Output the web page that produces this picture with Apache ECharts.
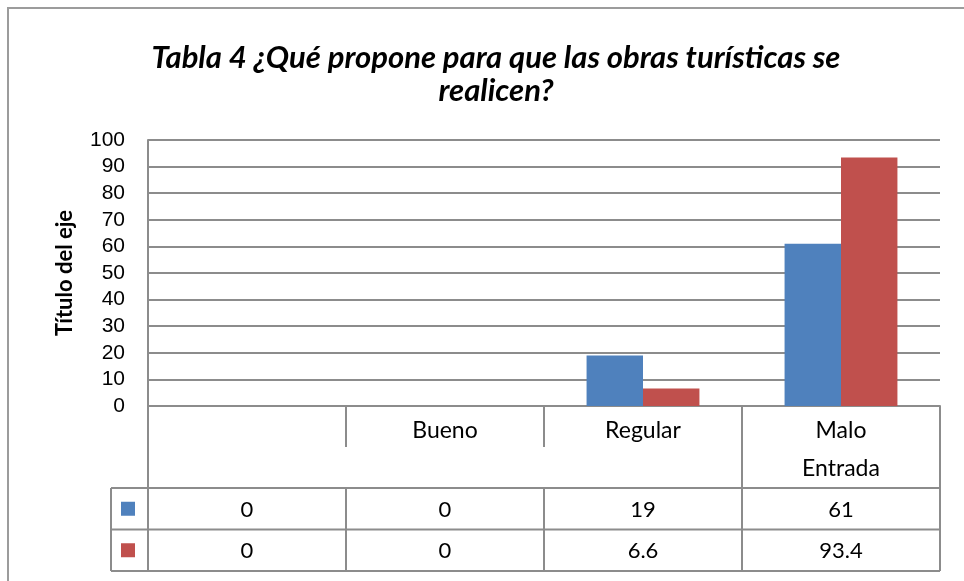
<!DOCTYPE html>
<html>
<head>
<meta charset="utf-8">
<script src="https://cdn.jsdelivr.net/npm/echarts@6/dist/echarts.min.js"></script>
<style>
  html, body { margin: 0; padding: 0; background: #fff; }
  #chartmain { width: 964px; height: 581px; }
</style>
</head>
<body>
<div id="chartmain"></div>
<script>
// datos del gráfico
var categories = ['', 'Bueno', 'Regular', 'Malo'];
var groupLabels = ['', '', '', 'Entrada'];
var serieAzul = [0, 0, 19, 61];
var serieRoja = [0, 0, 6.6, 93.4];
var yTicks = [0, 100, 10]; // min, max, intervalo

var colores = ['#4F81BD', '#C0504D'];
var gris = '#8c8c8c';
var fuente = 'Lato, "Open Sans", sans-serif';

var option = {
  animation: false,
  title: {
    text: 'Tabla 4 ¿Qué propone para que las obras turísticas se\nrealicen?',
    left: 491,
    top: 36,
    textAlign: 'center',
    textStyle: {
      fontFamily: fuente,
      fontStyle: 'italic',
      fontWeight: 'bold',
      fontSize: 31,
      lineHeight: 33,
      color: '#000'
    }
  },
  grid: { left: 148, right: 24, top: 140, bottom: 175 },
  xAxis: {
    type: 'category',
    data: categories,
    axisLine: { show: true, lineStyle: { color: gris, width: 2 } },
    axisTick: { show: false },
    axisLabel: {
      interval: 0,
      margin: 6,
      fontFamily: fuente,
      fontSize: 23,
      lineHeight: 38,
      color: '#000',
      formatter: function (value, idx) {
        return groupLabels[idx] ? value + '\n' + groupLabels[idx] : value;
      }
    }
  },
  yAxis: {
    type: 'value',
    min: yTicks[0],
    max: yTicks[1],
    interval: yTicks[2],
    name: 'Título del eje',
    nameLocation: 'middle',
    nameGap: 72,
    nameRotate: 90,
    nameTextStyle: { fontFamily: fuente, fontWeight: 'bold', fontSize: 22, color: '#000' },
    axisLine: { show: true, lineStyle: { color: gris, width: 2 } },
    axisTick: { show: false },
    axisLabel: { margin: 23, fontFamily: '"Liberation Sans", Arial, sans-serif', fontSize: 21, color: '#000' },
    splitLine: { show: true, lineStyle: { color: gris, width: 2 } }
  },
  series: [
    { name: 'Serie 1', type: 'bar', data: serieAzul, barGap: '0%', barCategoryGap: '43%', itemStyle: { color: colores[0] } },
    { name: 'Serie 2', type: 'bar', data: serieRoja, barGap: '0%', barCategoryGap: '43%', itemStyle: { color: colores[1] } }
  ]
};

var myChart = echarts.init(document.getElementById('chartmain'));
myChart.setOption(option);

// tabla de datos debajo del eje
var c0 = myChart.convertToPixel({ xAxisIndex: 0 }, 0);
var c1 = myChart.convertToPixel({ xAxisIndex: 0 }, 1);
var w = c1 - c0;
var centros = categories.map(function (c, i) { return c0 + w * i; });
var bordes = centros.map(function (c) { return c - w / 2; });
bordes.push(centros[centros.length - 1] + w / 2);
var y0 = myChart.convertToPixel({ yAxisIndex: 0 }, 0);
var headH = 82, rowH = 41.5, legX = 111;
var yHead = y0 + headH;
var yEnd = yHead + rowH * 2;

var g = [];
function linea(x1, y1, x2, y2) {
  g.push({ type: 'line', silent: true, shape: { x1: x1, y1: y1, x2: x2, y2: y2 }, style: { stroke: gris, lineWidth: 2 } });
}
// marco
g.push({ type: 'rect', silent: true, shape: { x: 8, y: 8, width: 1100, height: 700 }, style: { fill: 'none', stroke: '#9c9c9c', lineWidth: 2 } });
// horizontales
for (var r = 0; r <= 2; r++) linea(legX, yHead + rowH * r, bordes[bordes.length - 1], yHead + rowH * r);
// verticales
linea(legX, yHead, legX, yEnd);
bordes.forEach(function (bx, i) {
  if (i == 1 || i == 2) {
    linea(bx, y0, bx, y0 + headH / 2);
    linea(bx, yHead, bx, yEnd);
  } else {
    linea(bx, y0, bx, yEnd);
  }
});
// filas con valores
[serieAzul, serieRoja].forEach(function (serie, r) {
  var cy = yHead + rowH * r + rowH / 2;
  g.push({ type: 'rect', silent: true, shape: { x: legX + 10, y: cy - 7, width: 14, height: 14 }, style: { fill: colores[r] } });
  serie.forEach(function (v, i) {
    g.push({
      type: 'text', silent: true, x: centros[i], y: cy + 1,
      style: { text: String(v), fontFamily: fuente, fontSize: 22, fill: '#000', align: 'center', verticalAlign: 'middle' }
    });
  });
});
myChart.setOption({ graphic: g });
</script>
</body>
</html>
